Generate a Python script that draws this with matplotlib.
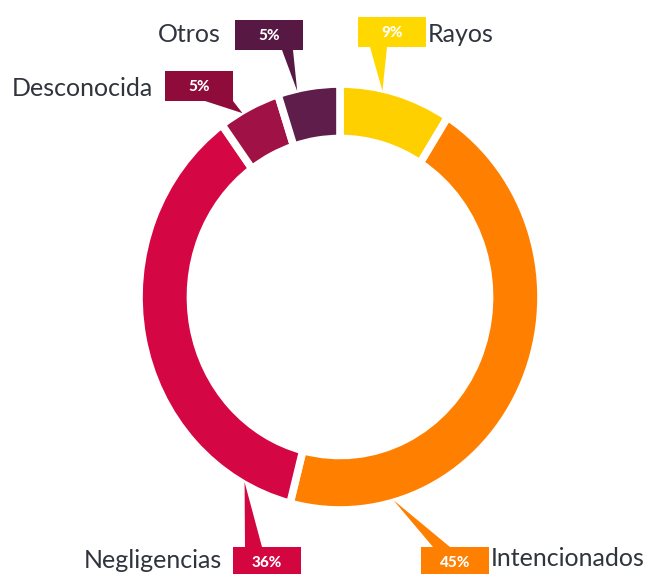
import numpy as np
import matplotlib
matplotlib.use("Agg")
from matplotlib import pyplot as plt
from matplotlib.patches import Rectangle, Polygon

# Datos: causas de incendios (%)
categorias = ["Rayos", "Intencionados", "Negligencias", "Desconocida", "Otros"]
valores = [9, 45, 36, 5, 5]
colores = ["#FFD000", "#FF8000", "#D50644", "#A01245", "#5E1D4B"]
colores_caja = ["#FFD800", "#FF7F00", "#D3063F", "#8E0B3A", "#571843"]

# Disposicion de las etiquetas (pixeles, origen arriba a la izquierda)
cajas = [(358, 17), (421, 547), (233, 547), (165, 71), (235, 20)]  # esquina sup. izq.
puntero_frac = [0.38, 0.815, 0.11, 0.37, 0.31]  # posicion del puntero dentro del sector
puntero_base = [(12, 29, "b"), (12, 29, "t"), (12, 29, "t"), (40, 68, "b"), (47, 58, "b")]
nombres_pos = [(428, 35, "left"), (491, 558, "left"), (222, 560, "right"),
               (153, 88, "right"), (221, 35, "right")]

W, H = 650, 574
CAJA_W, CAJA_H = 68, 30

fig = plt.figure(figsize=(W / 100, H / 100), dpi=100)

# Ejes del anillo (ligeramente eliptico, como en la original)
cx, cy, rx, ry = 340, 297, 201, 213
ax_pie = fig.add_axes([(cx - rx) / W, (H - cy - ry) / H, 2 * rx / W, 2 * ry / H])
wedges, _ = ax_pie.pie(valores, colors=colores, startangle=90, counterclock=False,
                       radius=1.0,
                       wedgeprops=dict(width=0.256, edgecolor="white", linewidth=5.5))
ax_pie.set_xlim(-1, 1)
ax_pie.set_ylim(-1, 1)
ax_pie.set_aspect("auto")
ax_pie.axis("off")

# Ejes superpuestos en pixeles para cajas y punteros
ax = fig.add_axes([0, 0, 1, 1])
ax.set_xlim(0, W)
ax.set_ylim(H, 0)
ax.axis("off")

to_over = ax.transData.inverted()
for i, w in enumerate(wedges):
    ang = np.deg2rad(w.theta2 - puntero_frac[i] * (w.theta2 - w.theta1))
    apex_disp = ax_pie.transData.transform((0.99 * np.cos(ang), 0.99 * np.sin(ang)))
    apex = to_over.transform(apex_disp)

    bx, by = cajas[i]
    b0, b1, lado = puntero_base[i]
    ye = by + CAJA_H if lado == "b" else by
    ax.add_patch(Polygon([(bx + b0, ye), (bx + b1, ye), apex],
                         closed=True, facecolor=colores_caja[i], edgecolor="none"))
    ax.add_patch(Rectangle((bx, by), CAJA_W, CAJA_H,
                           facecolor=colores_caja[i], edgecolor="none"))
    ax.text(bx + CAJA_W / 2, by + CAJA_H / 2 + 1, f"{valores[i]}%", color="white",
            fontsize=11, fontweight="black", family=["Lato", "DejaVu Sans"],
            ha="center", va="center")

    nx, ny, al = nombres_pos[i]
    ax.text(nx, ny, categorias[i], color="#30343D", fontsize=18,
            fontweight="normal", family=["Lato", "DejaVu Sans"],
            ha=al, va="center")

fig.savefig("out.png", dpi=100, facecolor="white")
